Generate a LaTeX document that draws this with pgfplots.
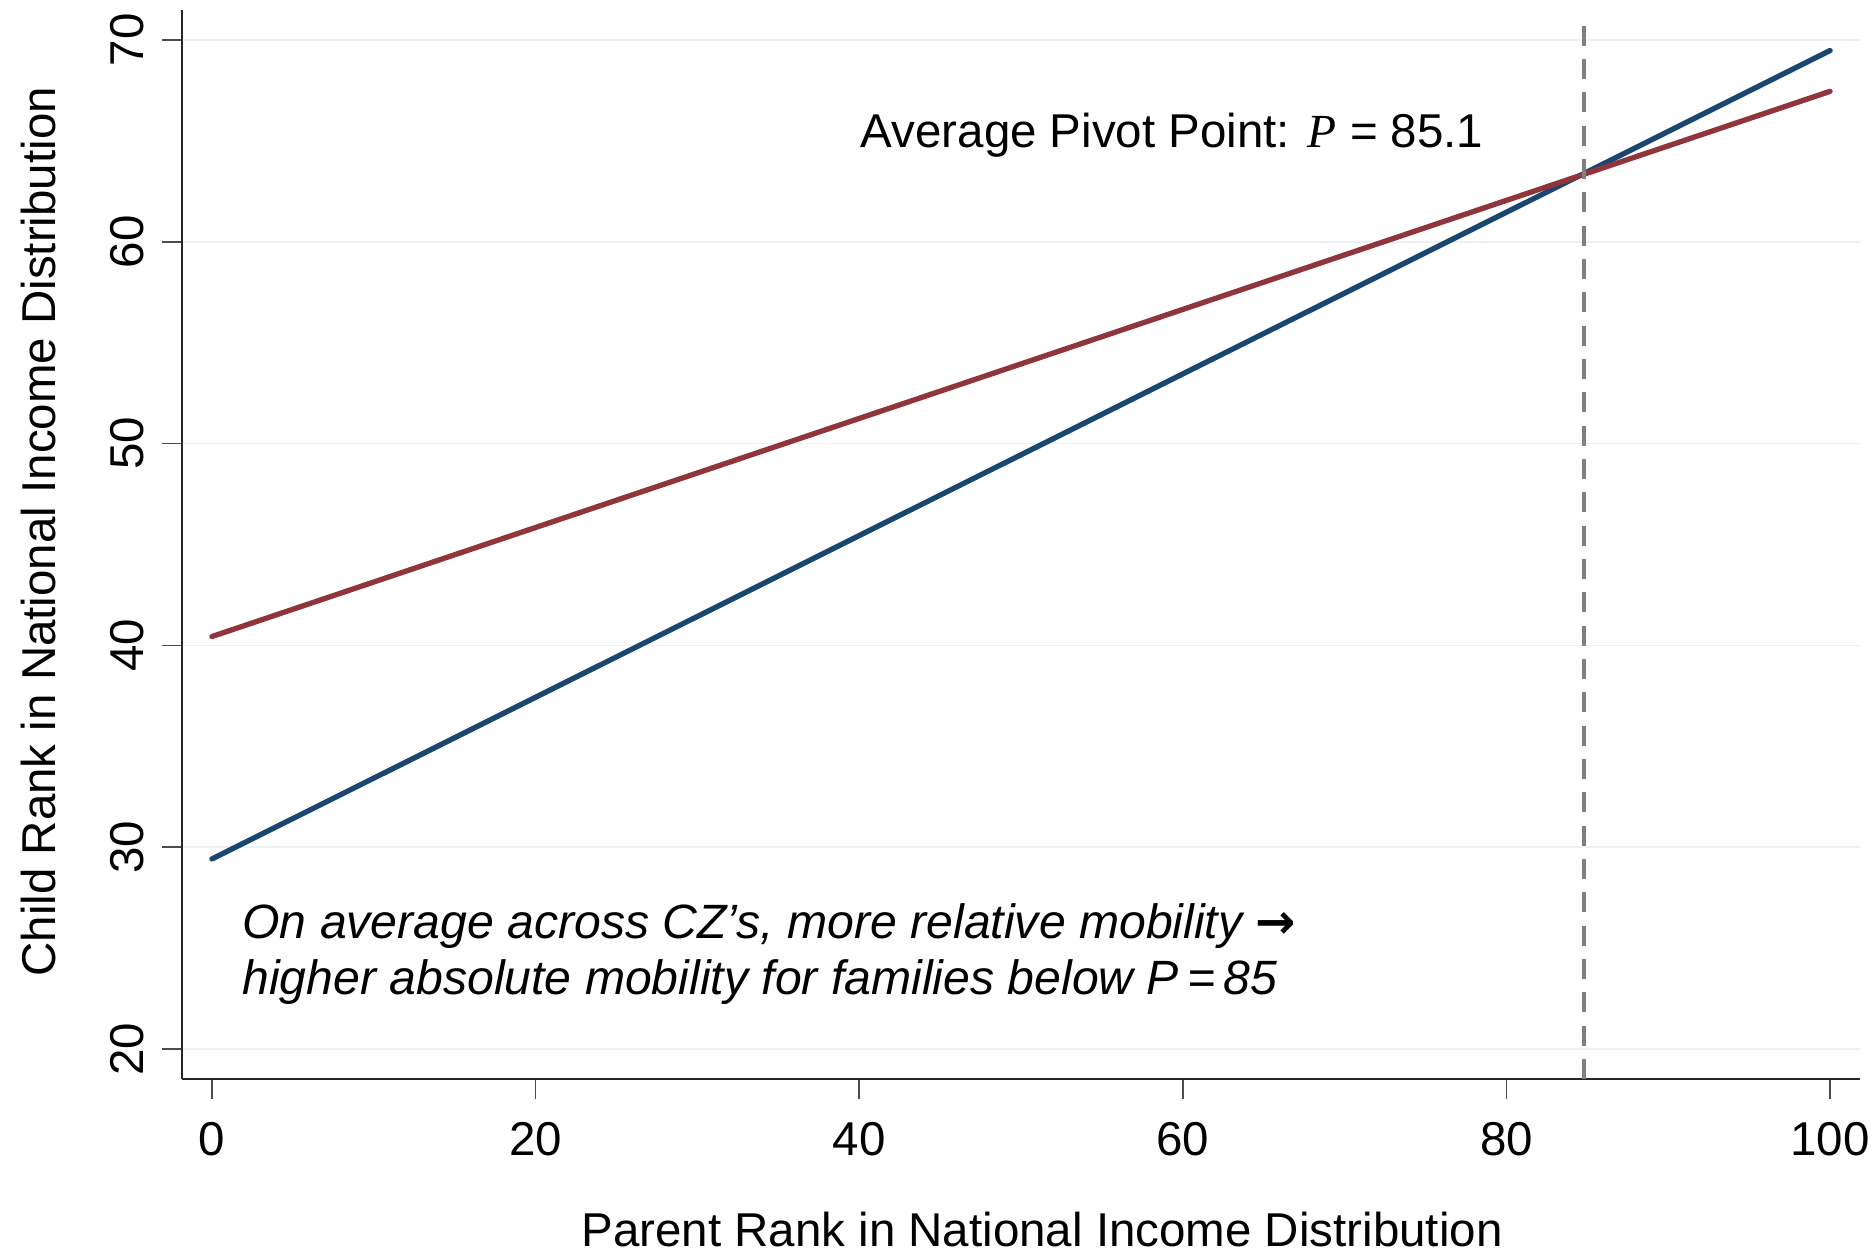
\documentclass[border=0pt]{standalone}
\usepackage{fontspec}
\setmainfont{Liberation Sans}
\newfontfamily\dejavu{DejaVu Sans}
\newfontfamily\serifP{Liberation Serif}
\usepackage{pgfplots}
\pgfplotsset{compat=1.18}
\definecolor{navy}{RGB}{26,71,111}
\definecolor{maroon}{RGB}{144,53,59}
\definecolor{gridc}{RGB}{234,242,243}
\begin{document}
\begin{tikzpicture}
\useasboundingbox (0,0) rectangle (562.8bp,375.9bp);
\begin{axis}[
  at={(54.6bp,52.2bp)}, anchor=south west,
  scale only axis, width=503.4bp, height=320.7bp,
  xmin=-1.85, xmax=101.85, ymin=18.52, ymax=71.48,
  axis lines=left, axis line style={-, line width=0.5bp, black!85},
  xtick={0,20,...,100}, ytick={20,30,...,70},
  tick align=outside, major tick length=6bp,
  tick style={line width=0.5bp, black!70},
  ymajorgrids, grid style={line width=0.5bp, gridc},
  /pgf/number format/assume math mode=true,
  ticklabel style={font=\fontsize{14.3}{17}\selectfont},
  yticklabel style={rotate=90, anchor=south, yshift=2bp},
  xticklabel style={anchor=north, yshift=-3.5bp},
  label style={font=\fontsize{14.3}{17}\selectfont},
  xlabel={Parent Rank in National Income Distribution},
  ylabel={Child Rank in National Income Distribution},
  xlabel style={at={(axis description cs:0.5125,-0.141)}, anchor=center},
  ylabel style={at={(axis description cs:-0.0858,0.512)}, anchor=center},
  clip=false,
]
\addplot[navy, line width=1.6bp, line cap=round] coordinates {(0,29.42) (100,69.47)};
\addplot[maroon, line width=1.6bp, line cap=round] coordinates {(0,40.44) (100,67.45)};
\addplot[gray, dash pattern=on 6bp off 4bp, line width=1.4bp] coordinates {(84.8,18.52) (84.8,71.0)};
\node[anchor=west, inner sep=0, font=\fontsize{14.3}{17}\selectfont] at (axis cs:40.06,65.3) {Average Pivot Point: {\serifP\itshape P} = 85.1};
\node[anchor=west, align=left, inner sep=0, font=\fontsize{14.5}{16.8}\selectfont\itshape] at (axis cs:1.85,24.72) {On average across CZ’s, more relative mobility {\dejavu\upshape\bfseries →}\\higher absolute mobility for families below P\,=\,85};
\end{axis}
\end{tikzpicture}
\end{document}
